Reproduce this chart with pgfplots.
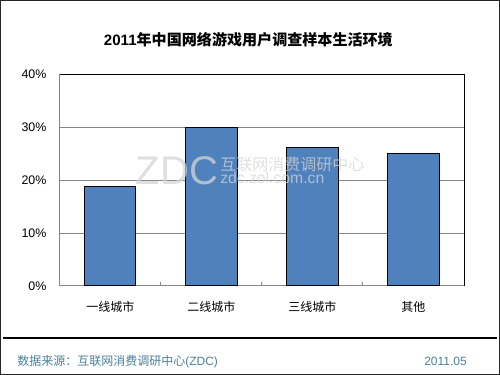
\documentclass[border=0pt]{standalone}
\usepackage{pgfplots}
\pgfplotsset{compat=1.18}
\usepackage{fontspec}
\setmainfont{Liberation Sans}
\newfontfamily\arial{Liberation Sans}
\newfontfamily\cjk{Noto Sans CJK SC}
\definecolor{barblue}{HTML}{4F81BD}
\definecolor{gridgray}{HTML}{868686}
\definecolor{foot}{HTML}{4A7F9C}
\definecolor{wm}{HTML}{D4D4D4}
\begin{document}
\begin{tikzpicture}
\path[use as bounding box] (0,0) rectangle (375pt,281.25pt);
\draw[line width=1pt, color=black!85] (0.5pt,0.5pt) rectangle (374.5pt,280.75pt);
\node[inner sep=0pt] at (186.3pt,251.25pt) {\fontsize{11.3}{13}\selectfont{\arial\bfseries 2011}{\cjk\bfseries 年中国网络游戏用户调查样本生活环境}};
\begin{axis}[
  at={(44.8pt,66.75pt)}, anchor=south west, scale only axis,
  width=303.2pt, height=158.8pt,
  xmin=-0.5, xmax=3.5, ymin=0, ymax=40,
  ytick={0,10,20,30,40},
  yticklabel={\pgfmathprintnumber{\tick}\%},
  /pgf/number format/assume math mode=true,
  yticklabel style={font=\arial\fontsize{9.3}{11}\selectfont, xshift=-6.5pt},
  ymajorgrids, grid style={gridgray, line width=0.75pt},
  axis line style={gridgray, line width=0.75pt},
  xtick={0,1,2,3},
  xticklabels={一线城市,二线城市,三线城市,其他},
  xticklabel style={font=\cjk\fontsize{9}{10}\selectfont, yshift=-8pt},
  major tick length=0pt,
  xtick pos=bottom, ytick pos=left,
  extra x ticks={0.5,1.5,2.5},
  extra x tick labels={},
  extra x tick style={major tick length=3pt, tick align=inside, tick style={gridgray, line width=0.75pt}, grid=none},
  clip=false,
]
\addplot[ybar, bar width=38.5pt, fill=barblue, draw=black, line width=0.75pt] coordinates {(0,18.8) (1,30) (2,26.2) (3,25.1)};
\draw[black, line width=0.75pt] (rel axis cs:0,1) -- (rel axis cs:1,1) -- (rel axis cs:1,0);
\end{axis}
\node[inner sep=0pt, text=wm, opacity=0.75] at (132.75pt,153pt) {\arial\fontsize{30}{30}\selectfont ZDC};
\node[inner sep=0pt, anchor=west, text=wm, opacity=0.75] at (165pt,158.25pt) {\cjk\fontsize{12}{12}\selectfont 互联网消费调研中心};
\node[inner sep=0pt, anchor=west, text=wm, opacity=0.75] at (165pt,147.75pt) {\arial\fontsize{11.8}{12}\selectfont zdc.zol.com.cn};
\draw[black, line width=1pt] (2.25pt,27.75pt) -- (372.75pt,27.75pt);
\node[inner sep=0pt, anchor=west, text=foot] at (12.75pt,9.98pt) {\fontsize{9}{10}\selectfont{\cjk 数据来源：互联网消费调研中心}{\arial (ZDC)}};
\node[inner sep=0pt, anchor=east, text=foot] at (350.25pt,9.98pt) {\arial\fontsize{9}{10}\selectfont 2011.05};
\end{tikzpicture}
\end{document}
